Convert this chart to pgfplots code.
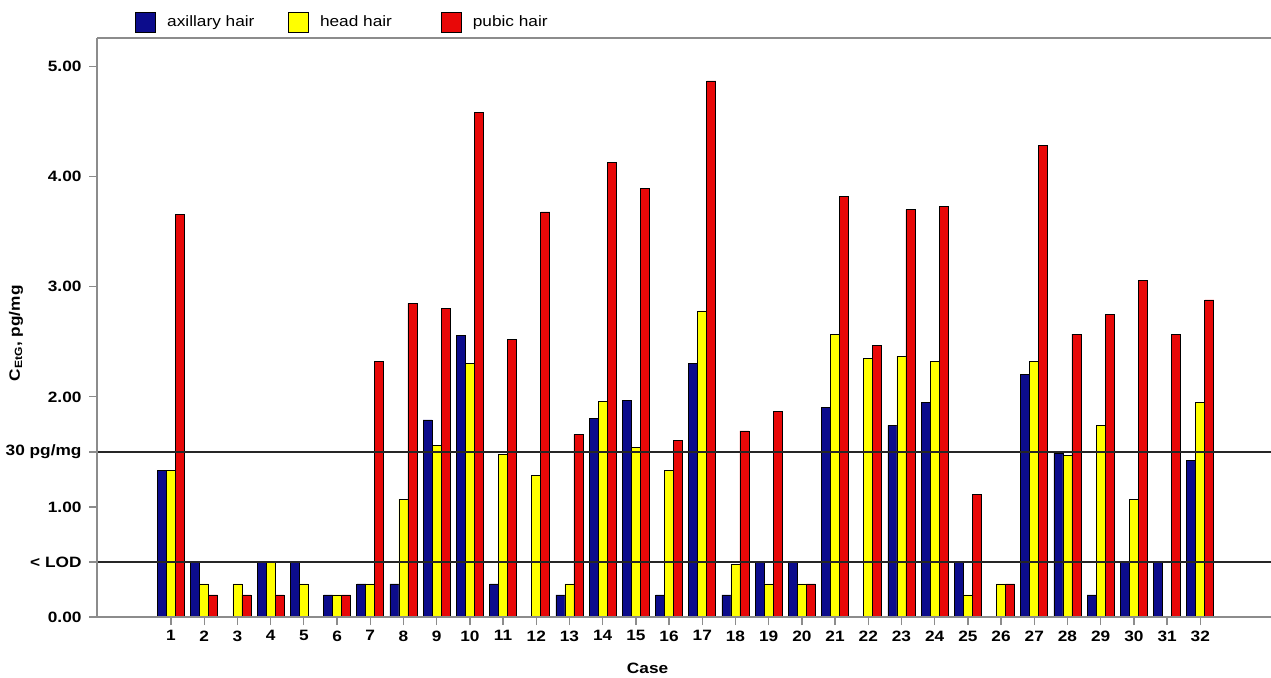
\documentclass[border=0pt]{standalone}
\usepackage{pgfplots}
\pgfplotsset{compat=1.18}
\usepackage{fontspec}
\setmainfont[FakeStretch=1.15]{Liberation Sans}
\definecolor{cblue}{RGB}{12,12,140}
\definecolor{cyellow}{RGB}{255,255,0}
\definecolor{cred}{RGB}{232,8,8}
\definecolor{axgray}{RGB}{140,140,140}
\begin{document}
\begin{tikzpicture}[x=1pt,y=1pt]
\useasboundingbox (0,0) rectangle (1271,677);
\begin{axis}[
  at={(97pt,60pt)}, anchor=south west,
  scale only axis, width=1174pt, height=579pt,
  xmin=-1.23, xmax=34.13, ymin=0, ymax=5.26,
  ybar=0pt, bar width=9pt,
  axis line style={draw=none},
  xtick pos=bottom, ytick pos=left,
  xtick={1,...,32},
  ytick={0,0.5,1,1.5,2,3,4,5},
  yticklabels={0.00,{< LOD},1.00,{30 pg/mg},2.00,3.00,4.00,5.00},
  tick align=outside,
  tick style={axgray, line width=1.3pt},
  major tick length=8pt,
  /pgf/number format/assume math mode=true,
  ticklabel style={font=\fontsize{15}{17}\selectfont\bfseries},
  yticklabel style={xshift=-4pt},
  xticklabel style={yshift=-2pt},
  xlabel={Case},
  xlabel style={font=\fontsize{15}{17}\selectfont\bfseries, at={(axis description cs:0.469,-0.088)}, anchor=center},
  ylabel={C\textsubscript{EtG}, pg/mg},
  ylabel style={font=\fontsize{15}{17}\selectfont\bfseries, at={(axis description cs:-0.069,0.49)}, anchor=center, rotate=0},
  legend columns=3,
  legend style={draw=none, fill=none, at={(axis description cs:0.03,1.0276)}, anchor=west,
    font=\fontsize{15}{17}\selectfont,
    /tikz/every even column/.append style={column sep=0pt}},
  legend image code/.code={\draw[#1] (0pt,-10pt) rectangle (20pt,10pt);},
  clip=false,
]
\addplot[fill=cblue, draw=black, line width=0.8pt] coordinates {
(1,1.33) (2,0.5) (4,0.5) (5,0.5) (6,0.2) (7,0.3) (8,0.3) (9,1.79) (10,2.56)
(11,0.3) (13,0.2) (14,1.80) (15,1.97) (16,0.2) (17,2.30) (18,0.2) (19,0.5)
(20,0.5) (21,1.90) (23,1.74) (24,1.95) (25,0.5) (27,2.20) (28,1.49) (29,0.2)
(30,0.5) (31,0.5) (32,1.42)};
\addlegendentry{\hspace*{9pt}\makebox[119pt][l]{axillary hair}}
\addplot[fill=cyellow, draw=black, line width=0.8pt] coordinates {
(1,1.33) (2,0.3) (3,0.3) (4,0.5) (5,0.3) (6,0.2) (7,0.3) (8,1.07) (9,1.56)
(10,2.30) (11,1.48) (12,1.29) (13,0.3) (14,1.96) (15,1.54) (16,1.33) (17,2.78)
(18,0.48) (19,0.3) (20,0.3) (21,2.57) (22,2.35) (23,2.37) (24,2.32) (25,0.2)
(26,0.3) (27,2.32) (28,1.47) (29,1.74) (30,1.07) (32,1.95)};
\addlegendentry{\hspace*{9pt}\makebox[119pt][l]{head hair}}
\addplot[fill=cred, draw=black, line width=0.8pt] coordinates {
(1,3.66) (2,0.2) (3,0.2) (4,0.2) (6,0.2) (7,2.32) (8,2.85) (9,2.80) (10,4.58)
(11,2.52) (12,3.68) (13,1.66) (14,4.13) (15,3.89) (16,1.60) (17,4.87) (18,1.69)
(19,1.87) (20,0.3) (21,3.82) (22,2.47) (23,3.70) (24,3.73) (25,1.11) (26,0.3)
(27,4.28) (28,2.57) (29,2.75) (30,3.06) (31,2.57) (32,2.88)};
\addlegendentry{\hspace*{9pt}pubic hair}
\addplot[sharp plot, black!85, line width=2.6pt, forget plot] coordinates {(-1.23,0.5) (34.13,0.5)};
\addplot[sharp plot, black!85, line width=2.6pt, forget plot] coordinates {(-1.23,1.5) (34.13,1.5)};
\draw[axgray, line width=2pt] (rel axis cs:0,1) -- (rel axis cs:0,0) -- (rel axis cs:1,0);
\draw[axgray, line width=2pt] (rel axis cs:0,1) -- (rel axis cs:1,1);
\end{axis}
\end{tikzpicture}
\end{document}
